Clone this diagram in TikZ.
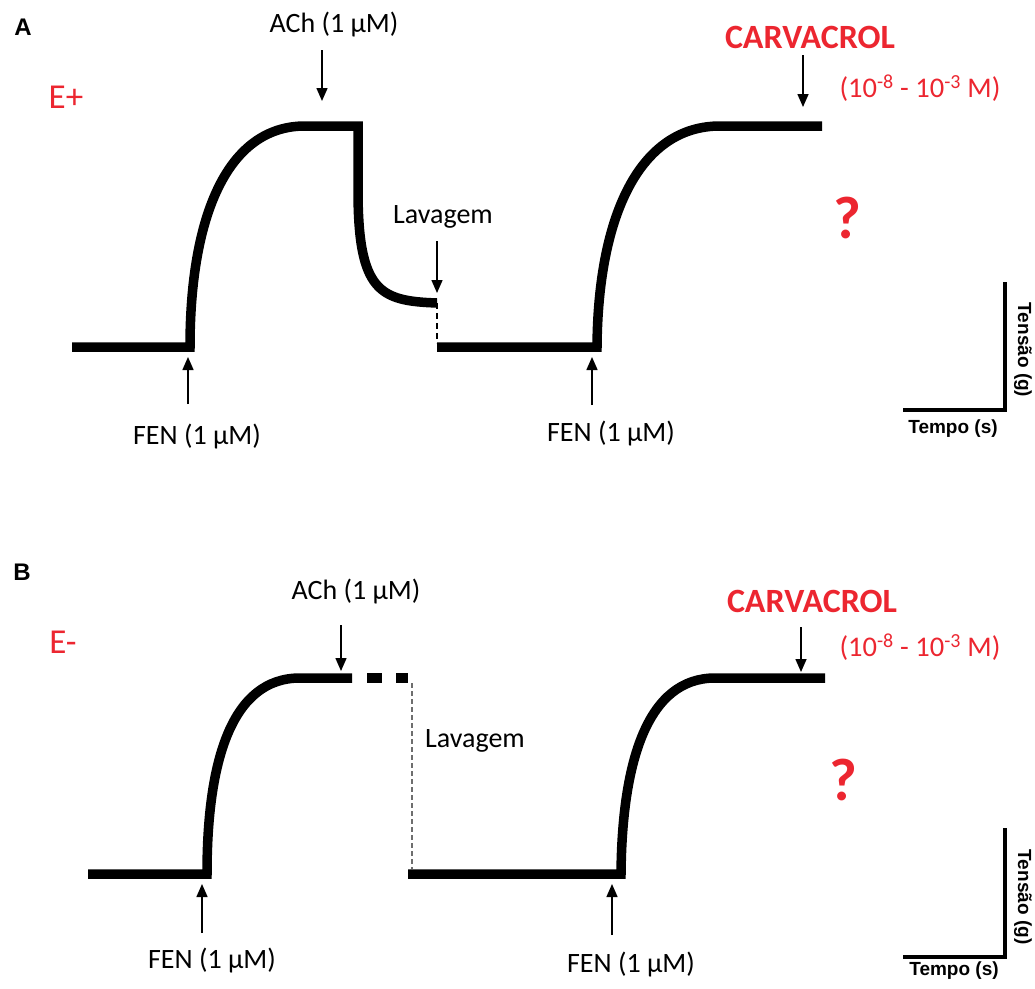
\documentclass[tikz,border=0pt]{standalone}
\usepackage{fontspec}
\setmainfont{Carlito}
\newfontfamily\barfont{Liberation Sans}
\usetikzlibrary{arrows.meta}
\definecolor{drugred}{RGB}{236,38,48}
\definecolor{washgray}{RGB}{110,110,110}
\begin{document}
\begin{tikzpicture}[x=1pt,y=-1pt,
  trace/.style={line width=9.5pt},
  marker/.style={line width=1.5pt,-{Triangle[length=13pt,width=11pt]}},
  lbl/.style={font=\fontsize{28}{30}\selectfont, inner sep=0pt},
  redlbl/.style={font=\fontsize{28.5}{30}\selectfont, text=drugred, inner sep=0pt},
  drug/.style={font=\fontsize{34}{36}\selectfont\bfseries, text=drugred, inner sep=0pt},
  query/.style={font=\fontsize{60}{62}\selectfont\bfseries, text=drugred, inner sep=0pt},
  group/.style={font=\fontsize{35}{37}\selectfont, text=drugred, inner sep=0pt},
  panel/.style={font=\barfont\fontsize{24}{26}\selectfont\bfseries, inner sep=0pt},
  barlbl/.style={font=\barfont\fontsize{19}{21}\selectfont\bfseries, inner sep=0pt},
  scalebar/.style={line width=4pt},
  washA/.style={line width=2pt, dash pattern=on 6pt off 4pt},
  washB/.style={line width=1.6pt, washgray, dash pattern=on 5pt off 3pt}
]
\useasboundingbox (0,0) rectangle (1035,988);

% ---------------- Panel A ----------------
\node[panel] (pA) at (23,27) {A};
\node[group] (eplus) at (66,97) {E+};

% tension trace
\draw[trace] (72,347) -- (190,347) .. controls (190,215) and (228,126) .. (305,126)
  -- (358,126) -- (358,190) .. controls (358,292) and (380,301) .. (437,303);
\draw[washA] (437,303) -- (437,343);
\draw[trace] (437,347) -- (597,347) .. controls (598,215) and (640,126) .. (720,126) -- (822,126);

% additions
\node[lbl] (achA) at (334,25) {ACh (1 µM)};
\coordinate (achAt) at (322,50);
\coordinate (achAh) at (322,101);
\draw[marker] (achAt) -- (achAh);

\node[lbl] (fenA1) at (197,437) {FEN (1 µM)};
\coordinate (fenA1t) at (188,404);
\coordinate (fenA1h) at (188,357);
\draw[marker] (fenA1t) -- (fenA1h);

\node[lbl] (lavA) at (443,217) {Lavagem};
\coordinate (lavAt) at (437,241);
\coordinate (lavAh) at (437,293);
\draw[marker] (lavAt) -- (lavAh);

\node[lbl] (fenA2) at (611,434) {FEN (1 µM)};
\coordinate (fenA2t) at (592,405);
\coordinate (fenA2h) at (592,357);
\draw[marker] (fenA2t) -- (fenA2h);

\node[drug] (carA) at (810,37) {CARVACROL};
\coordinate (carAt) at (803,55);
\coordinate (carAh) at (803,107);
\draw[marker] (carAt) -- (carAh);
\node[redlbl] (concA) at (920,88) {(10\textsuperscript{-8} - 10\textsuperscript{-3} M)};
\node[query] (qA) at (847,218) {?};

% scale bar
\coordinate (sbAtop) at (1005,282);
\coordinate (sbAcorner) at (1005,410);
\coordinate (sbAleft) at (903,410);
\draw[scalebar] (sbAtop) -- (sbAcorner) -- (sbAleft);
\node[barlbl, rotate=-90] (tensA) at (1023,350) {Tensão (g)};
\node[barlbl] (tempoA) at (953,429) {Tempo (s)};

% ---------------- Panel B ----------------
\node[panel] (pB) at (22,572) {B};
\node[group] (eminus) at (63,642) {E-};

% tension trace
\draw[trace] (88,874) -- (207,874) .. controls (207,760) and (232,678) .. (300,678) -- (352,678);
\draw[trace] (367,678) -- (382,678);
\draw[trace] (396,678) -- (408,678);
\draw[washB] (412,683) -- (412,869);
\draw[trace] (408,874) -- (621,874) .. controls (622,760) and (648,678) .. (715,678) -- (825,678);

% additions
\node[lbl] (achB) at (356,592) {ACh (1 µM)};
\coordinate (achBt) at (341,625);
\coordinate (achBh) at (341,671);
\draw[marker] (achBt) -- (achBh);

\node[lbl] (lavB) at (475,741) {Lavagem};

\node[lbl] (fenB1) at (212,960) {FEN (1 µM)};
\coordinate (fenB1t) at (202,933);
\coordinate (fenB1h) at (202,884);
\draw[marker] (fenB1t) -- (fenB1h);

\node[lbl] (fenB2) at (631,964) {FEN (1 µM)};
\coordinate (fenB2t) at (612,935);
\coordinate (fenB2h) at (612,884);
\draw[marker] (fenB2t) -- (fenB2h);

\node[drug] (carB) at (812,601) {CARVACROL};
\coordinate (carBt) at (801,627);
\coordinate (carBh) at (801,672);
\draw[marker] (carBt) -- (carBh);
\node[redlbl] (concB) at (920,647) {(10\textsuperscript{-8} - 10\textsuperscript{-3} M)};
\node[query] (qB) at (843,780) {?};

% scale bar
\coordinate (sbBtop) at (1005,828);
\coordinate (sbBcorner) at (1005,957);
\coordinate (sbBleft) at (903,957);
\draw[scalebar] (sbBtop) -- (sbBcorner) -- (sbBleft);
\node[barlbl, rotate=-90] (tensB) at (1023,897) {Tensão (g)};
\node[barlbl] (tempoB) at (954,971) {Tempo (s)};
\end{tikzpicture}
\end{document}
